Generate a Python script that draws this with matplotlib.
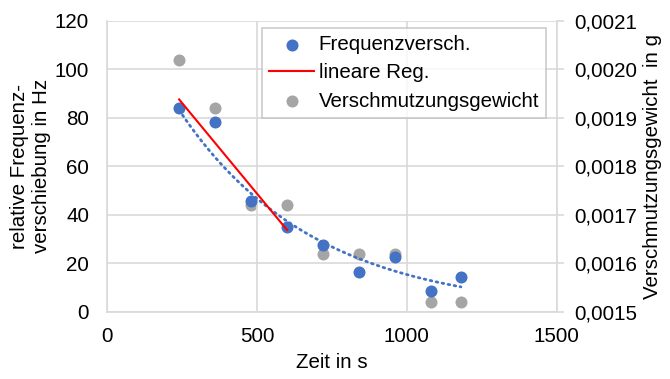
import numpy as np
import matplotlib.pyplot as plt

plt.rcParams['font.family'] = ['Liberation Sans', 'DejaVu Sans']

# measurement times in s
zeit = [240, 360, 480, 600, 720, 840, 960, 1080, 1180]
# relative frequency shift in Hz
frequenz = [83.9, 78.3, 45.6, 35.0, 27.6, 16.5, 22.5, 8.7, 14.6]
# contamination weight in g
gewicht = [0.00202, 0.00192, 0.00172, 0.00172, 0.00162, 0.00162, 0.00162, 0.00152, 0.00152]

left_ticks = [0, 20, 40, 60, 80, 100, 120]
right_ticks = [0.0015, 0.0016, 0.0017, 0.0018, 0.0019, 0.0020, 0.0021]
x_ticks = [0, 500, 1000, 1500]

blue = '#4472C4'
gray = '#A5A5A5'
grid_c = '#D9D9D9'
fs = 14.8

x = np.array(zeit, dtype=float)
y = np.array(frequenz)

# linear regression over the first four points
k = np.polyfit(x[:4], y[:4], 1)
x_lin = np.array([x[0], x[3]])
y_lin = k[0] * x_lin + k[1]

# exponential trend over all points
ke = np.polyfit(x, np.log(y), 1)
x_exp = np.linspace(x[0], x[-1], 200)
y_exp = np.exp(ke[1] + ke[0] * x_exp)

fig = plt.figure(figsize=(6.7, 3.79), dpi=100)
ax = fig.add_axes([0.160, 0.177, 0.671, 0.768])
ax2 = ax.twinx()

ax.set_zorder(ax2.get_zorder() + 1)
ax.patch.set_visible(False)

ax2.scatter(zeit, gewicht, s=75, color=gray, zorder=3, linewidths=0)
p1 = ax.scatter(zeit, frequenz, s=75, color=blue, zorder=3, linewidths=0)
l1, = ax.plot(x_lin, y_lin, color='#FF0000', lw=1.5, zorder=4)
ax.plot(x_exp, y_exp, color=blue, lw=2, ls=(0, (0.6, 1.6)), dash_capstyle='round', zorder=2)
p2 = ax.scatter([], [], s=75, color=gray, linewidths=0)

ax.set_xlim(0, 1500)
ax.set_ylim(0, 120)
ax2.set_ylim(0.0015, 0.0021)
ax.set_xticks(x_ticks)
ax.set_yticks(left_ticks)
ax2.set_yticks(right_ticks)
ax2.set_yticklabels([f'{v:.4f}'.replace('.', ',') for v in right_ticks])

ax.grid(True, color=grid_c, lw=1.2)
ax.set_axisbelow(True)
for a in (ax, ax2):
    for s in a.spines.values():
        s.set_visible(False)
for side in ('left', 'bottom'):
    ax.spines[side].set_visible(True)
    ax.spines[side].set_color(grid_c)
    ax.spines[side].set_linewidth(1.2)
ax2.spines['right'].set_visible(True)
ax2.spines['right'].set_color(grid_c)
ax2.spines['right'].set_linewidth(1.2)

ax.tick_params(axis='y', length=0, labelsize=fs, pad=13)
ax.tick_params(axis='x', length=0, labelsize=fs, pad=11)
ax2.tick_params(axis='y', length=5, color=grid_c, width=1.2, labelsize=fs, pad=7.5)

ax.set_xlabel('Zeit in s', fontsize=fs, labelpad=5)
ax.set_ylabel('relative Frequenz-\nverschiebung in Hz', fontsize=fs, labelpad=3, linespacing=1.2)
ax2.set_ylabel('Verschmutzungsgewicht  in g', fontsize=fs, labelpad=4)

leg = ax.legend([p1, l1, p2], ['Frequenzversch.', 'lineare Reg.', 'Verschmutzungsgewicht'],
                loc='upper center', bbox_to_anchor=(0.661, 0.976), fontsize=fs,
                frameon=True, fancybox=False, borderpad=0.35, labelspacing=0.45,
                handlelength=2.15, handletextpad=0.25, borderaxespad=0)
leg.get_frame().set_edgecolor('#BFBFBF')
leg.get_frame().set_linewidth(1.2)

fig.savefig('out.png', dpi=100)
